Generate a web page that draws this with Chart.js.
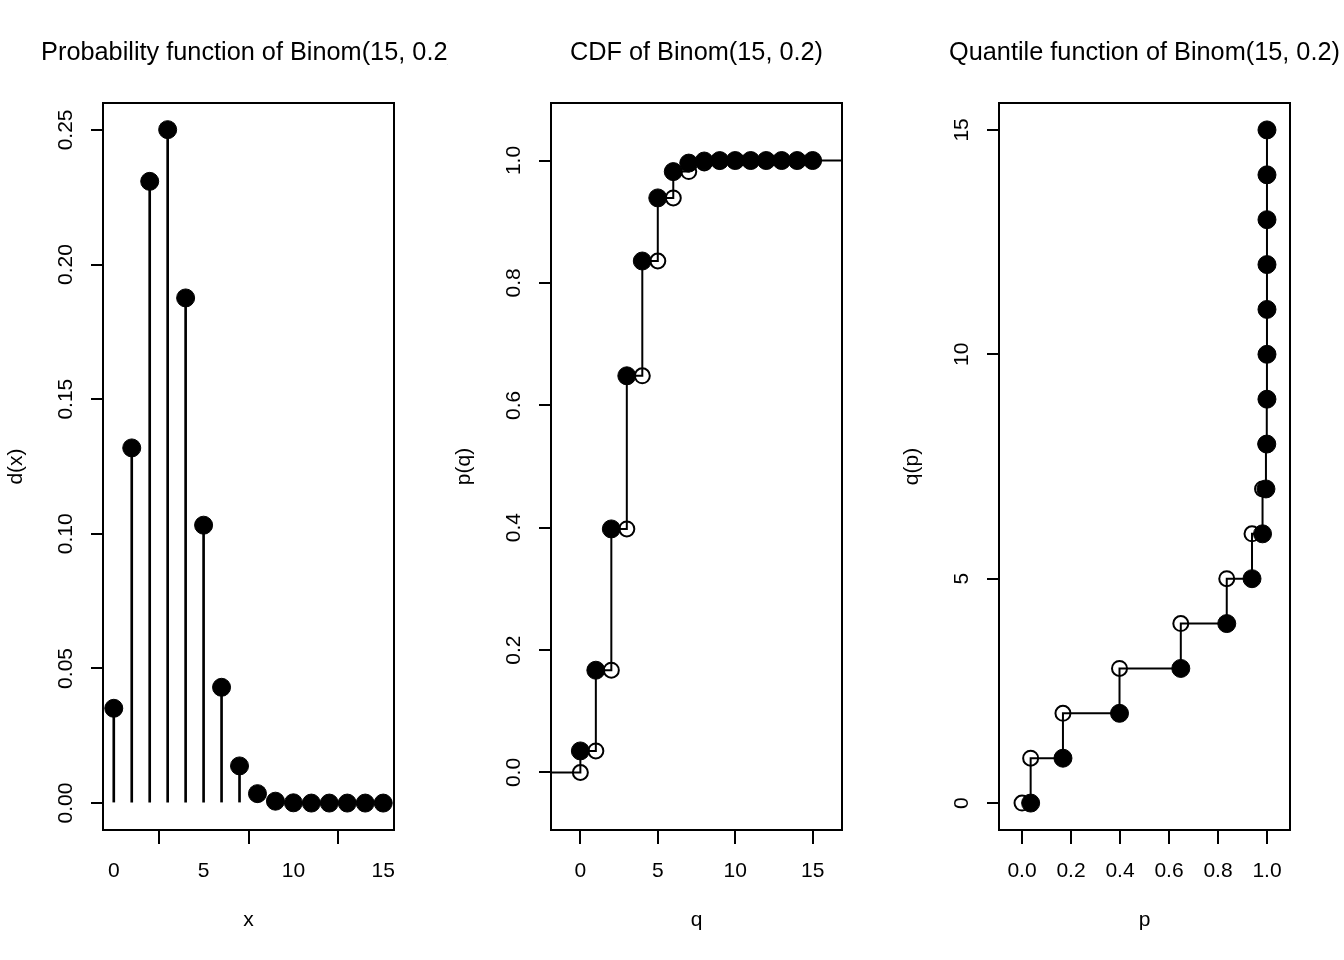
<!DOCTYPE html>
<html lang="en">
<head>
<meta charset="UTF-8">
<title>Binom(15, 0.2)</title>
<script src="https://cdn.jsdelivr.net/npm/chart.js"></script>
<style>
  body { margin: 0; background: #fff; }
  .panel { position: absolute; top: 0; width: 448px; height: 960px; }
</style>
</head>
<body>
<div class="panel" style="left:0"><canvas id="pmfChart" width="448" height="960"></canvas></div>
<div class="panel" style="left:448px"><canvas id="cdfChart" width="448" height="960"></canvas></div>
<div class="panel" style="left:896px"><canvas id="quantChart" width="448" height="960"></canvas></div>
<script>
// values
const outcomes = [0, 1, 2, 3, 4, 5, 6, 7, 8, 9, 10, 11, 12, 13, 14, 15];
const probs = [0.0352, 0.1319, 0.2309, 0.2501, 0.1876, 0.1032, 0.0430, 0.0138,
               0.0035, 0.0007, 0.0001, 0.0000, 0.0000, 0.0000, 0.0000, 0.0000];
const cumProbs = [0.0352, 0.1671, 0.3980, 0.6482, 0.8358, 0.9389, 0.9819, 0.9958,
                  0.9992, 0.9999, 1.0000, 1.0000, 1.0000, 1.0000, 1.0000, 1.0000];

const countTicks = [0, 5, 10, 15];
const probTicks = [0, 0.05, 0.10, 0.15, 0.20, 0.25];
const unitTicks = [0, 0.2, 0.4, 0.6, 0.8, 1.0];

// axis limits (R style, 4% padding)
const pmfX = [-0.6, 15.6], pmfY = [-0.01, 0.26];
const cdfX = [-1.896, 16.896], cdfY = [-0.094, 1.094];
const qX = [-0.094, 1.094], qY = [-0.6, 15.6];

const FONT = '"Liberation Sans", Arial, Helvetica, sans-serif';
const tickFont = { family: FONT, size: 21, lineHeight: 1 };

function textWidth(labels) {
  const ctx = document.createElement('canvas').getContext('2d');
  ctx.font = '21px ' + FONT;
  return Math.max(...labels.map(l => ctx.measureText(l).width));
}

function makeAxis(pos, range, ticks, fmt, title) {
  const isX = pos === 'bottom';
  const yPad = 24.3 - textWidth(ticks.map(fmt)) / 2;
  return {
    type: 'linear', position: pos, min: range[0], max: range[1], offset: false,
    afterBuildTicks: s => { s.ticks = ticks.map(v => ({ value: v })); },
    afterFit: s => { if (isX) s.height = 130; else s.width = 103; },
    border: { display: false },
    grid: { drawOnChartArea: false, drawTicks: true, tickLength: isX ? 14 : 12, color: '#000', lineWidth: 2 },
    ticks: {
      autoSkip: false, color: '#000', font: tickFont,
      callback: v => fmt(v),
      padding: isX ? 16.5 : yPad,
      minRotation: isX ? 0 : 90, maxRotation: isX ? 0 : 90,
      crossAlign: isX ? 'near' : 'center'
    },
    title: {
      display: true, text: title, color: '#000', font: tickFont,
      padding: isX ? { top: 0, bottom: 28.8 } : { top: 6.2, bottom: 0 }
    }
  };
}

// box round the plot region and the main title
const frame = {
  id: 'frame',
  afterDraw(chart, args, opts) {
    const { ctx, chartArea: a } = chart;
    ctx.save();
    ctx.strokeStyle = '#000';
    ctx.lineWidth = 2;
    ctx.strokeRect(a.left, a.top, a.right - a.left, a.bottom - a.top);
    ctx.font = '25.3px ' + FONT;
    ctx.fillStyle = '#000';
    ctx.textAlign = 'center';
    ctx.textBaseline = 'alphabetic';
    ctx.fillText(opts.title, (a.left + a.right) / 2, 60);
    ctx.restore();
  }
};

function dots(data, filled, order) {
  return {
    type: 'scatter', data, order, clip: false, showLine: false,
    pointRadius: filled ? 9 : 7.5,
    pointBorderWidth: filled ? 1 : 2,
    pointBackgroundColor: filled ? '#000' : 'rgba(0,0,0,0)',
    pointBorderColor: '#000',
    backgroundColor: filled ? '#000' : 'rgba(0,0,0,0)',
    borderColor: '#000'
  };
}

function steps(data, mode) {
  return {
    type: 'line', data, order: 3, stepped: mode,
    borderColor: '#000', borderWidth: 2, pointRadius: 0, fill: false
  };
}

function render(id, title, datasets, xAxis, yAxis) {
  new Chart(document.getElementById(id), {
    type: 'scatter',
    data: { datasets },
    options: {
      responsive: false, animation: false, events: [],
      layout: { padding: { top: 103, right: 54, bottom: 0, left: 0 } },
      plugins: { legend: { display: false }, tooltip: { enabled: false }, frame: { title } },
      scales: { x: xAxis, y: yAxis }
    },
    plugins: [frame]
  });
}

// probability function
render('pmfChart', 'Probability function of Binom(15, 0.2)', [
  dots(outcomes.map((k, i) => ({ x: k, y: probs[i] })), true, 1),
  { type: 'bar', data: outcomes.map((k, i) => ({ x: k, y: probs[i] })), order: 2,
    backgroundColor: '#000', borderWidth: 0, barThickness: 2, grouped: false }
],
  makeAxis('bottom', pmfX, countTicks, v => String(v), 'x'),
  makeAxis('left', pmfY, probTicks, v => v.toFixed(2), 'd(x)'));

// CDF
const prevCum = [0].concat(cumProbs.slice(0, -1));
render('cdfChart', 'CDF of Binom(15, 0.2)', [
  dots(outcomes.map((k, i) => ({ x: k, y: cumProbs[i] })), true, 1),
  dots(outcomes.map((k, i) => ({ x: k, y: prevCum[i] })), false, 2),
  steps([{ x: cdfX[0], y: 0 }]
    .concat(outcomes.map((k, i) => ({ x: k, y: cumProbs[i] })))
    .concat([{ x: cdfX[1], y: 1 }]), 'before')
],
  makeAxis('bottom', cdfX, countTicks, v => String(v), 'q'),
  makeAxis('left', cdfY, unitTicks, v => v.toFixed(1), 'p(q)'));

// quantile function
render('quantChart', 'Quantile function of Binom(15, 0.2)', [
  dots(outcomes.map((k, i) => ({ x: cumProbs[i], y: k })), true, 1),
  dots(outcomes.map((k, i) => ({ x: prevCum[i], y: k })), false, 2),
  steps([{ x: 0, y: 0 }].concat(outcomes.map((k, i) => ({ x: cumProbs[i], y: k }))), 'after')
],
  makeAxis('bottom', qX, unitTicks, v => v.toFixed(1), 'p'),
  makeAxis('left', qY, countTicks, v => String(v), 'q(p)'));
</script>
</body>
</html>
